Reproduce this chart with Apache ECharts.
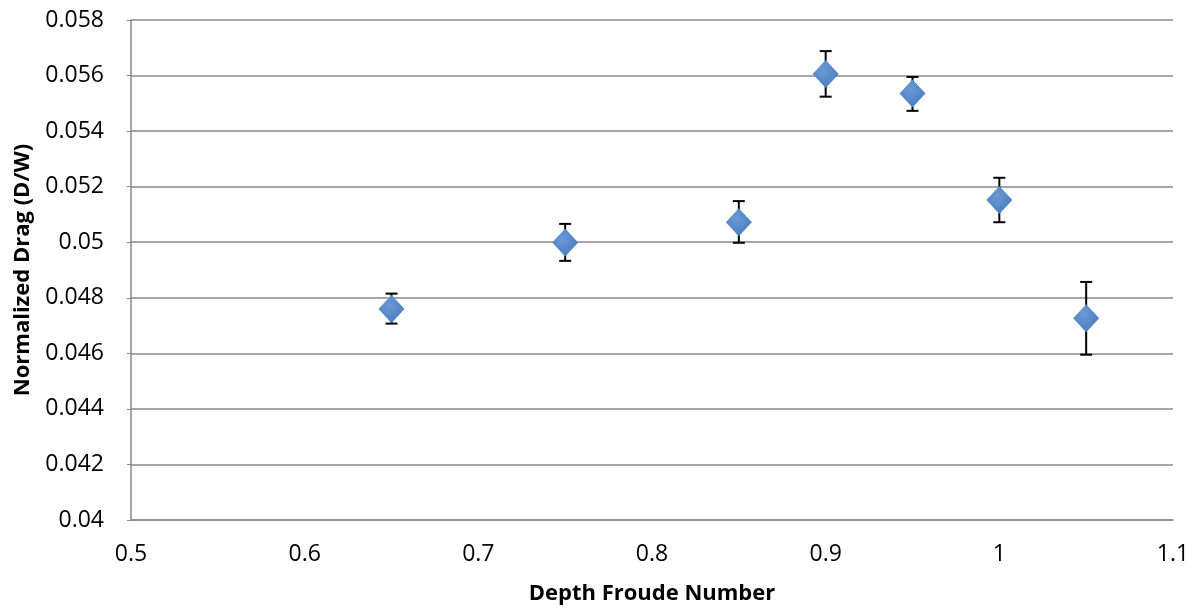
<!DOCTYPE html>
<html>
<head>
<meta charset="utf-8">
<script src="https://cdn.jsdelivr.net/npm/echarts@6/dist/echarts.min.js"></script>
<style>
  html, body { margin: 0; padding: 0; background: #fff; }
  #chart { width: 1198px; height: 610px; }
</style>
</head>
<body>
<div id="chart"></div>
<script>
// Depth Froude number vs normalized drag, with error bars
const froude = [0.65, 0.75, 0.85, 0.9, 0.95, 1.0, 1.05];
const drag = [0.04760, 0.04999, 0.05072, 0.05606, 0.05535, 0.05152, 0.04726];
const dragLow = [0.04707, 0.04933, 0.04998, 0.05524, 0.05473, 0.05072, 0.04595];
const dragHigh = [0.04815, 0.05066, 0.05148, 0.05688, 0.05595, 0.05232, 0.04857];

const fontFam = '"Open Sans", "Noto Sans", sans-serif';

const chart = echarts.init(document.getElementById('chart'));

const errData = froude.map((x, i) => [x, dragLow[i], dragHigh[i]]);

chart.setOption({
  animation: false,
  grid: { left: 131, right: 25, top: 20, bottom: 90, outerBoundsMode: 'none', containLabel: false },
  xAxis: {
    type: 'value',
    min: 0.5,
    max: 1.1,
    interval: 0.1,
    name: 'Depth Froude Number',
    nameLocation: 'middle',
    nameGap: 63,
    nameTextStyle: { fontFamily: fontFam, fontSize: 22, fontWeight: 'bold', color: '#000' },
    axisLine: { show: true, lineStyle: { color: '#888', width: 1.5 } },
    axisTick: { show: false },
    splitLine: { show: false },
    axisLabel: {
      fontFamily: fontFam, fontSize: 23, color: '#000', margin: 23,
      formatter: v => String(+v.toFixed(1))
    }
  },
  yAxis: {
    type: 'value',
    min: 0.04,
    max: 0.058,
    interval: 0.002,
    name: 'Normalized Drag (D/W)',
    nameLocation: 'middle',
    nameGap: 97,
    nameTextStyle: { fontFamily: fontFam, fontSize: 22, fontWeight: 'bold', color: '#000' },
    axisLine: { show: true, lineStyle: { color: '#888', width: 1.5 } },
    axisTick: { show: true, length: 4, lineStyle: { color: '#888' } },
    splitLine: { show: true, lineStyle: { color: '#888', width: 1.5 } },
    axisLabel: {
      fontFamily: fontFam, fontSize: 23, color: '#000', margin: 27,
      formatter: v => String(+v.toFixed(3))
    }
  },
  series: [
    {
      type: 'custom',
      z: 3,
      data: errData,
      renderItem: function (params, api) {
        const x = api.value(0);
        const lo = api.coord([x, api.value(1)]);
        const hi = api.coord([x, api.value(2)]);
        const hw = 6;
        const style = { stroke: '#000', lineWidth: 2 };
        return {
          type: 'group',
          children: [
            { type: 'line', shape: { x1: lo[0], y1: lo[1], x2: hi[0], y2: hi[1] }, style: style },
            { type: 'line', shape: { x1: hi[0] - hw, y1: hi[1], x2: hi[0] + hw, y2: hi[1] }, style: style },
            { type: 'line', shape: { x1: lo[0] - hw, y1: lo[1], x2: lo[0] + hw, y2: lo[1] }, style: style }
          ]
        };
      }
    },
    {
      type: 'scatter',
      z: 4,
      symbol: 'diamond',
      symbolSize: [26, 28],
      data: froude.map((x, i) => [x, drag[i]]),
      itemStyle: {
        opacity: 1,
        color: new echarts.graphic.RadialGradient(0.4, 0.35, 0.8, [
          { offset: 0, color: '#6a98d4' },
          { offset: 1, color: '#4479bb' }
        ])
      }
    }
  ]
});
</script>
</body>
</html>
